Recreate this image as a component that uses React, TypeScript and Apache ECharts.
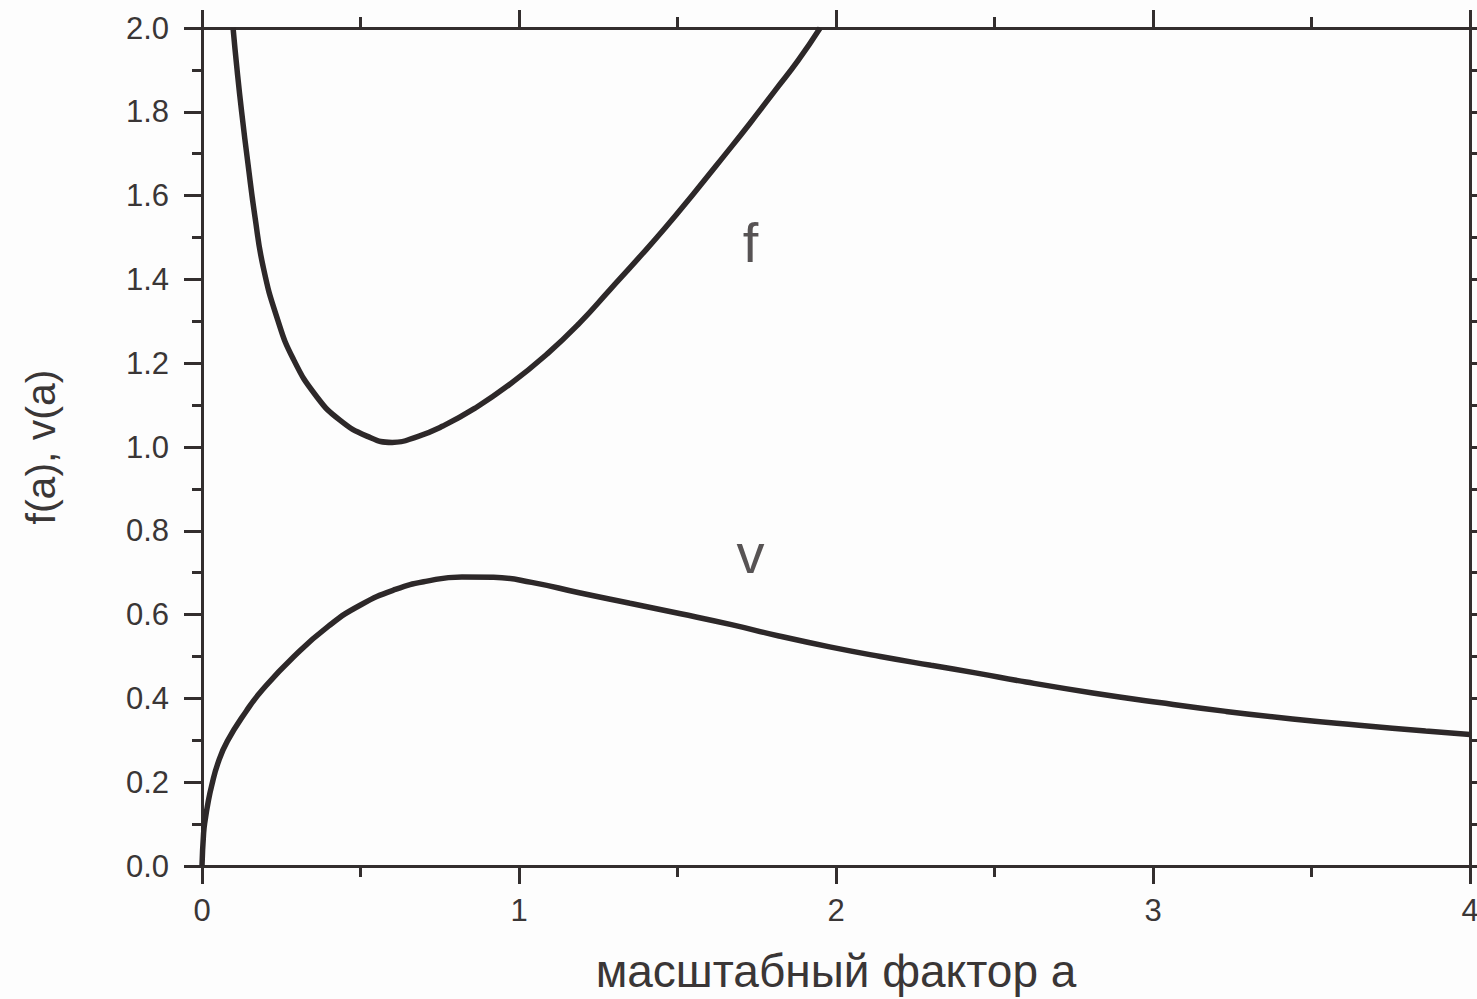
import React, { useEffect, useRef } from "react";
import * as echarts from "echarts";

// Scale factor a and the values of f(a)
const fA = [0.098, 0.11, 0.125, 0.146, 0.167, 0.193, 0.236, 0.288, 0.362, 0.435, 0.52, 0.6, 0.68, 0.76, 0.86, 0.97, 1.09, 1.19, 1.29, 1.375, 1.46, 1.55, 1.645, 1.73, 1.81, 1.88, 1.95];
const fV = [2.0, 1.905, 1.8, 1.67, 1.55, 1.43, 1.31, 1.21, 1.12, 1.064, 1.026, 1.011, 1.025, 1.05, 1.092, 1.149, 1.223, 1.295, 1.378, 1.449, 1.522, 1.604, 1.693, 1.774, 1.853, 1.922, 2.0];

// Scale factor a and the values of v(a)
const vA = [0, 0.005, 0.01, 0.02, 0.03, 0.05, 0.08, 0.14, 0.19, 0.29, 0.4, 0.5, 0.61, 0.71, 0.82, 0.92, 1.04, 1.19, 1.35, 1.51, 1.67, 1.82, 1.98, 2.14, 2.3, 2.44, 2.6, 2.81, 3.02, 3.23, 3.44, 3.65, 3.86, 4.0];
const vV = [0, 0.078, 0.11, 0.155, 0.19, 0.245, 0.298, 0.37, 0.42, 0.5, 0.573, 0.623, 0.66, 0.68, 0.69, 0.689, 0.677, 0.652, 0.627, 0.602, 0.576, 0.549, 0.523, 0.5, 0.479, 0.461, 0.439, 0.413, 0.39, 0.369, 0.351, 0.336, 0.322, 0.314];

// Curve labels placed in data coordinates
const curveLabels = ["f", "v"];
const curveLabelA = [1.73, 1.73];
const curveLabelY = [1.489, 0.747];

const xTitle = "масштабный фактор a";
const yTitle = "f(a), v(a)";

const FONT = "Liberation Sans, Arial, Helvetica, sans-serif";
const INK = "#2d2829";
const AXIS = "#332e2e";
const TEXT = "#3a3636";

export default function App() {
  const ref = useRef<HTMLDivElement>(null);

  useEffect(() => {
    if (!ref.current) return;
    const chart = echarts.init(ref.current, undefined, { renderer: "svg" });

    const xCommon = {
      type: "value",
      min: 0,
      max: 4,
      interval: 1,
      axisLine: { show: true, onZero: false, lineStyle: { color: AXIS, width: 3 } },
      axisTick: { show: true, inside: false, length: 18, lineStyle: { color: AXIS, width: 3 } },
      minorTick: { show: true, splitNumber: 2, length: 11, lineStyle: { color: AXIS, width: 3 } },
      splitLine: { show: false },
      minorSplitLine: { show: false },
    };
    const yCommon = {
      type: "value",
      min: 0,
      max: 2,
      interval: 0.2,
      axisLine: { show: true, onZero: false, lineStyle: { color: AXIS, width: 3 } },
      axisTick: { show: true, inside: false, length: 18, lineStyle: { color: AXIS, width: 3 } },
      minorTick: { show: true, splitNumber: 2, length: 10, lineStyle: { color: AXIS, width: 3 } },
      splitLine: { show: false },
      minorSplitLine: { show: false },
    };

    chart.setOption({
      animation: false,
      backgroundColor: "#fdfdfd",
      grid: {
        left: 202,
        right: 7,
        top: 28,
        bottom: 133,
        containLabel: false,
        outerBoundsMode: "none",
      },
      xAxis: [
        {
          ...xCommon,
          position: "bottom",
          axisLabel: {
            show: true,
            fontSize: 31,
            fontFamily: FONT,
            color: TEXT,
            margin: 29,
            showMinLabel: true,
            showMaxLabel: true,
          },
          name: xTitle,
          nameLocation: "middle",
          nameGap: 82,
          nameTextStyle: { fontSize: 46, fontFamily: FONT, color: TEXT },
        },
        {
          ...xCommon,
          position: "top",
          axisLabel: { show: false },
        },
      ],
      yAxis: [
        {
          ...yCommon,
          position: "left",
          axisLabel: {
            show: true,
            fontSize: 31,
            fontFamily: FONT,
            color: TEXT,
            margin: 33,
            formatter: (v: number) => v.toFixed(1),
          },
          name: yTitle,
          nameLocation: "middle",
          nameGap: 141,
          nameRotate: 90,
          nameTextStyle: { fontSize: 41, fontFamily: FONT, color: TEXT },
        },
        {
          ...yCommon,
          position: "right",
          axisLabel: { show: false },
        },
      ],
      series: [
        {
          type: "line",
          name: "f",
          xAxisIndex: 0,
          yAxisIndex: 0,
          data: fA.map((a, i) => [a, fV[i]]),
          smooth: 0.5,
          showSymbol: false,
          symbol: "none",
          lineStyle: { color: INK, width: 5.5 },
          clip: true,
        },
        {
          type: "line",
          name: "v",
          xAxisIndex: 0,
          yAxisIndex: 0,
          data: vA.map((a, i) => [a, vV[i]]),
          smooth: 0.5,
          showSymbol: false,
          symbol: "none",
          lineStyle: { color: INK, width: 5.5 },
          clip: true,
        },
        {
          type: "scatter",
          xAxisIndex: 0,
          yAxisIndex: 0,
          symbolSize: 1,
          itemStyle: { color: "rgba(0,0,0,0)" },
          data: curveLabels.map((t, i) => ({ value: [curveLabelA[i], curveLabelY[i]], name: t })),
          label: {
            show: true,
            position: "inside",
            formatter: (p: any) => p.name,
            fontSize: 56,
            fontFamily: FONT,
            color: INK,
          },
          silent: true,
        },
      ],
    });

    return () => chart.dispose();
  }, []);

  return (
    <div
      ref={ref}
      style={{ position: "absolute", left: 0, top: 0, width: 1477, height: 999 }}
    />
  );
}
